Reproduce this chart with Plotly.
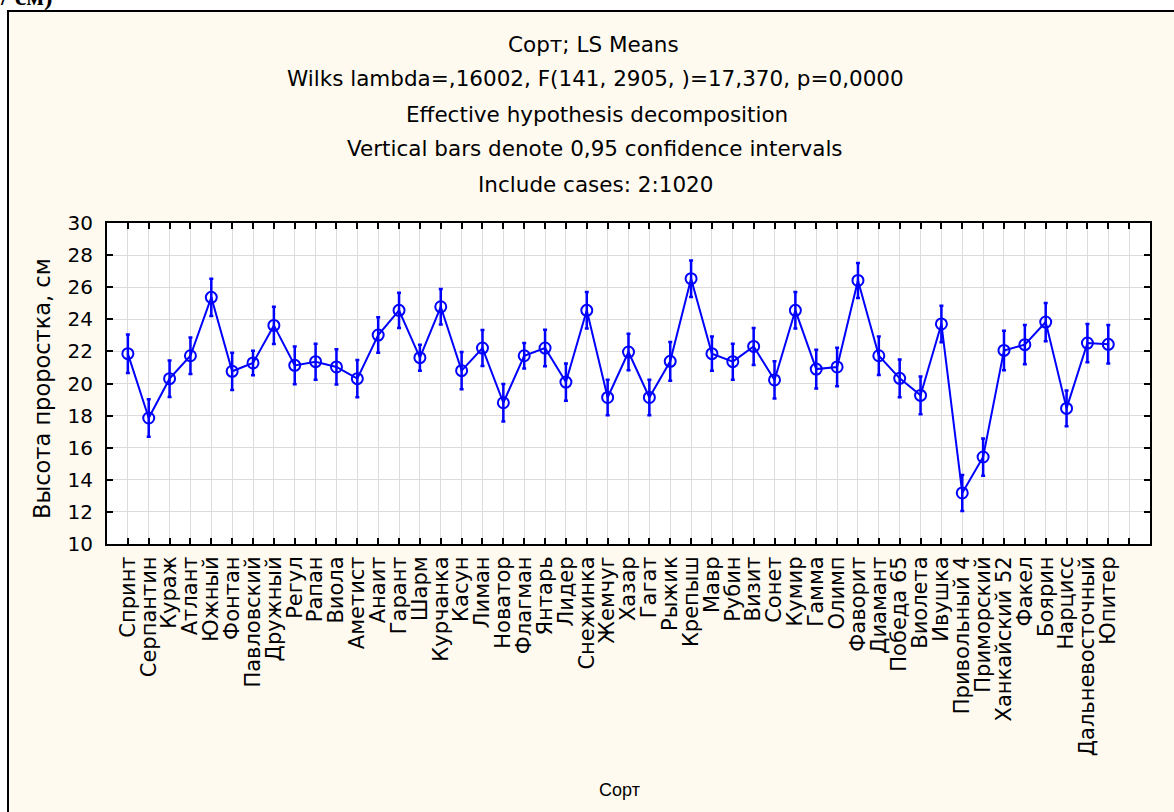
import plotly.graph_objects as go

varieties = ["Спринт", "Серпантин", "Кураж", "Атлант", "Южный", "Фонтан", "Павловский",
             "Дружный", "Регул", "Рапан", "Виола", "Аметист", "Анаит", "Гарант", "Шарм",
             "Курчанка", "Касун", "Лиман", "Новатор", "Флагман", "Янтарь", "Лидер",
             "Снежинка", "Жемчуг", "Хазар", "Гагат", "Рыжик", "Крепыш", "Мавр", "Рубин",
             "Визит", "Сонет", "Кумир", "Гамма", "Олимп", "Фаворит", "Диамант", "Победа 65",
             "Виолета", "Ивушка", "Привольный 4", "Приморский", "Ханкайский 52", "Факел",
             "Боярин", "Нарцисс", "Дальневосточный", "Юпитер"]
means = [21.86, 17.85, 20.30, 21.73, 25.37, 20.76, 21.28, 23.62, 21.13, 21.36, 21.03, 20.30,
         23.02, 24.56, 21.61, 24.78, 20.80, 22.21, 18.80, 21.73, 22.21, 20.09, 24.56, 19.13,
         21.96, 19.13, 21.38, 26.53, 21.86, 21.36, 22.31, 20.22, 24.56, 20.90, 21.03, 26.42,
         21.73, 20.32, 19.26, 23.71, 13.18, 15.42, 22.06, 22.42, 23.83, 18.45, 22.52, 22.44]
ci95 = [1.2, 1.17, 1.14, 1.14, 1.16, 1.16, 0.76, 1.16, 1.18, 1.12, 1.1, 1.16, 1.1, 1.1, 0.81,
        1.11, 1.16, 1.12, 1.17, 0.79, 1.14, 1.16, 1.14, 1.11, 1.14, 1.11, 1.21, 1.14, 1.07,
        1.12, 1.15, 1.16, 1.14, 1.21, 1.2, 1.09, 1.2, 1.18, 1.18, 1.14, 1.12, 1.16, 1.23,
        1.22, 1.19, 1.12, 1.19, 1.2]
y_ticks = [10, 12, 14, 16, 18, 20, 22, 24, 26, 28, 30]

title_lines = ["Сорт; LS Means",
               "Wilks lambda=,16002, F(141, 2905, )=17,370, p=0,0000",
               "Effective hypothesis decomposition",
               "Vertical bars denote 0,95 confidence intervals",
               "Include cases: 2:1020"]
y_title = "Высота проростка, см"
x_title = "Сорт"

FONT = "DejaVu Sans, Arial, sans-serif"
FONT2 = "Liberation Sans, Arial, sans-serif"
BLUE = "#0000FF"
CREAM = "#FFFAF0"

# pixel layout
W, H = 1174, 812
L, R, T, B = 107, 1150, 223, 544
pw, ph = R - L, B - T


def px(x):
    return (x - L) / pw


def py(y):
    return (B - y) / ph


xpos = list(range(1, len(varieties) + 1))

fig = go.Figure()
fig.add_trace(go.Scatter(
    x=xpos, y=means, mode="lines+markers",
    line=dict(color=BLUE, width=2),
    marker=dict(symbol="circle-open", size=11, color=BLUE, line=dict(width=2, color=BLUE)),
    error_y=dict(type="data", array=ci95, visible=True, color=BLUE, thickness=2.5, width=2),
    showlegend=False, cliponaxis=False,
))

shapes = [
    dict(type="rect", xref="paper", yref="paper", x0=px(8), x1=px(W + 20), y0=py(H + 20), y1=py(11),
         fillcolor=CREAM, line=dict(color="black", width=2), layer="below"),
    dict(type="rect", xref="paper", yref="paper", x0=0, x1=1, y0=0, y1=1,
         fillcolor="white", line=dict(width=0), layer="below"),
]

annotations = []
title_pos = [(593, 45), (595, 79), (597, 114), (595, 148), (595, 184)]
for txt, (cx, cy) in zip(title_lines, title_pos):
    annotations.append(dict(text=txt, x=px(cx), y=py(cy), xref="paper", yref="paper",
                            showarrow=False, xanchor="center", yanchor="middle",
                            font=dict(family=FONT, size=21.5, color="black")))
annotations.append(dict(text=y_title, x=px(42), y=py(389), xref="paper", yref="paper",
                        showarrow=False, textangle=-90, xanchor="center", yanchor="middle",
                        font=dict(family=FONT, size=22.5, color="black")))
annotations.append(dict(text=x_title, x=px(619), y=py(790), xref="paper", yref="paper",
                        showarrow=False, xanchor="center", yanchor="middle",
                        font=dict(family=FONT2, size=18, color="black")))
annotations.append(dict(text="<b>/ см)</b>", x=px(-2), y=py(-3), xref="paper", yref="paper",
                        showarrow=False, xanchor="left", yanchor="middle",
                        font=dict(family="Liberation Serif, Times New Roman, serif", size=26,
                                  color="black")))

fig.update_layout(
    width=W, height=H,
    margin=dict(l=L, r=W - R, t=T, b=H - B, pad=0),
    paper_bgcolor="white", plot_bgcolor="rgba(0,0,0,0)",
    shapes=shapes, annotations=annotations,
    xaxis=dict(range=[0, len(varieties) + 2], tickmode="array",
               tickvals=list(range(1, len(varieties) + 2)),
               ticktext=varieties + [""], tickangle=-90,
               ticks="inside", ticklen=6, tickwidth=1.5, tickcolor="black",
               showline=True, linecolor="black", linewidth=2, mirror="ticks",
               showgrid=True, gridcolor="#DCDCDC", gridwidth=1, zeroline=False,
               tickfont=dict(family=FONT, size=21, color="black"), ticklabelstandoff=2),
    yaxis=dict(range=[10, 30], tickmode="array", tickvals=y_ticks,
               ticks="inside", ticklen=6, tickwidth=1.5, tickcolor="black",
               showline=True, linecolor="black", linewidth=2, mirror="ticks",
               showgrid=True, gridcolor="#DCDCDC", gridwidth=1, zeroline=False,
               tickfont=dict(family=FONT, size=20, color="black"), ticklabelstandoff=8),
)

fig.write_html("out.html", config={"displayModeBar": False},
               post_script="document.body.style.margin='0px';")
